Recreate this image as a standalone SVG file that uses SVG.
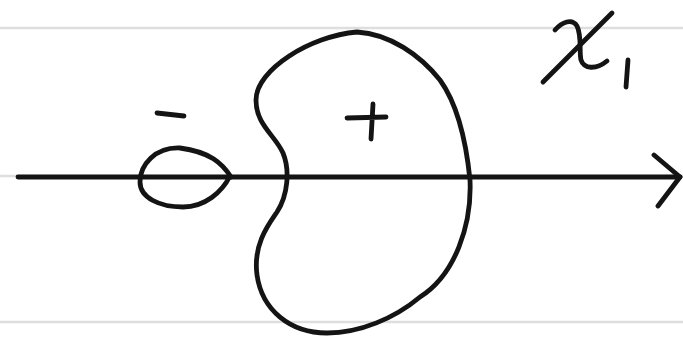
<svg xmlns="http://www.w3.org/2000/svg" width="683" height="337" viewBox="0 0 683 337">
<style>
.rule{stroke:#dedede;stroke-width:2.5;fill:none}
.ink{stroke:#141414;stroke-width:4.8;fill:none;stroke-linecap:round;stroke-linejoin:round}
</style>
<rect width="683" height="337" fill="#ffffff"/>
<g id="ruling">
<line class="rule" x1="0" y1="28" x2="683" y2="28"/>
<line class="rule" x1="0" y1="176" x2="683" y2="176"/>
<line class="rule" x1="0" y1="322" x2="683" y2="322"/>
</g>
<g id="connectors">
<line class="ink" x1="18" y1="177" x2="680" y2="177"/>
<polyline class="ink" points="654,155 680,177 658,206"/>
</g>
<g id="small-loop">
<path class="ink" d="M 231,177 C 222,163 210,152 180,148 C 155,147 140,165 140,182 C 140,198 160,207 183,207 C 205,207 222,192 230,176"/>
<path class="ink" d="M 157,113 L 184,116"/>
</g>
<g id="bean">
<path class="ink" d="M 357,32 C 390,34 420,55 440,80 C 458,105 466,140 470,180 C 472,225 455,275 420,297 C 395,318 360,333 327,333 C 290,333 262,310 257,275 C 253,245 268,225 277,212 C 288,195 290,170 283,153 C 275,135 256,125 256,100 C 256,70 310,36 357,32 Z"/>
<path class="ink" d="M 347,118 L 386,117 M 373,104 L 371,139"/>
</g>
<g id="label-x1">
<path class="ink" d="M 555,30 C 562,22 572,18 577,26 C 582,36 579,52 581,60 C 584,69 596,70 607,61"/>
<path class="ink" d="M 543,82 L 612,13"/>
<path class="ink" d="M 628,60 L 626,87"/>
</g>
</svg>
